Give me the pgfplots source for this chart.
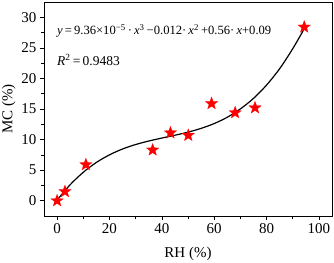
\documentclass[border=0pt]{standalone}
\usepackage{fontspec}
\setmainfont{Liberation Serif}
\usepackage{pgfplots}
\pgfplotsset{compat=1.18}
\pgfdeclareplotmark{fstar}{%
  \pgfpathmoveto{\pgfqpointpolar{90}{\pgfplotmarksize}}%
  \pgfpathlineto{\pgfqpointpolar{126}{0.42\pgfplotmarksize}}%
  \pgfpathlineto{\pgfqpointpolar{162}{\pgfplotmarksize}}%
  \pgfpathlineto{\pgfqpointpolar{198}{0.42\pgfplotmarksize}}%
  \pgfpathlineto{\pgfqpointpolar{234}{\pgfplotmarksize}}%
  \pgfpathlineto{\pgfqpointpolar{270}{0.42\pgfplotmarksize}}%
  \pgfpathlineto{\pgfqpointpolar{306}{\pgfplotmarksize}}%
  \pgfpathlineto{\pgfqpointpolar{342}{0.42\pgfplotmarksize}}%
  \pgfpathlineto{\pgfqpointpolar{18}{\pgfplotmarksize}}%
  \pgfpathlineto{\pgfqpointpolar{54}{0.42\pgfplotmarksize}}%
  \pgfpathclose
  \pgfusepathqfillstroke}
\begin{document}
\begin{tikzpicture}
\begin{axis}[
  scale only axis,
  width=288pt, height=214pt,
  xmin=-5, xmax=105, ymin=-2.5, ymax=32.5,
  xtick={0,20,...,100}, ytick={0,5,...,30},
  minor xtick={10,30,...,90},
  minor ytick={2.5,7.5,...,27.5},
  tick pos=left,
  tick align=outside,
  major tick length=4pt, minor tick length=2.5pt,
  every tick/.style={black, line width=0.6pt},
  axis line style={line width=0.7pt},
  /pgf/number format/assume math mode=true,
  ticklabel style={font=\fontsize{15}{17}\selectfont},
  xlabel={RH (\%)}, ylabel={MC (\%)},
  label style={font=\fontsize{15}{17}\selectfont},
  xlabel style={yshift=-7pt},
  ylabel style={yshift=-1pt},
  clip=false,
]
\addplot[black, line width=1.2pt, smooth] coordinates {
(0,0.10) (5,2.62) (10,4.65) (15,6.26) (20,7.50) (25,8.46) (30,9.19) (35,9.76)
(40,10.25) (45,10.71) (50,11.21) (55,11.83) (60,12.62) (65,13.65) (70,15.01)
(75,16.73) (80,18.91) (85,21.59) (90,24.86) (94.5,28.2)
};
\addplot[only marks, mark=fstar, mark size=6.5pt, red, mark options={fill=red, draw=red, line width=0.2pt}] coordinates {
(0,0) (3,1.5) (11,5.9) (36.5,8.3) (43.3,11.1) (50.1,10.7) (59,15.9) (68,14.4) (75.6,15.2) (94.4,28.4)
};
\node[anchor=west, font=\fontsize{12.6}{15}\selectfont, inner sep=0pt] at (rel axis cs:0.045,0.864)
 {\textit{y}\,=\,9.36×10\textsuperscript{−5}\,·\,\textit{x}\textsuperscript{3}\,−0.012·\,\textit{x}\textsuperscript{2}\,+0.56·\,\textit{x}+0.09};
\node[anchor=west, font=\fontsize{13.5}{15}\selectfont, inner sep=0pt] at (rel axis cs:0.045,0.729)
 {\textit{R}\textsuperscript{2}\,=\,0.9483};
\end{axis}
\pgfresetboundingbox
\path (current axis.south west) ++(-44pt,-46pt) coordinate (bl);
\path (current axis.north east) ++(2pt,2pt) coordinate (tr);
\path (bl) rectangle (tr);
\end{tikzpicture}
\end{document}
